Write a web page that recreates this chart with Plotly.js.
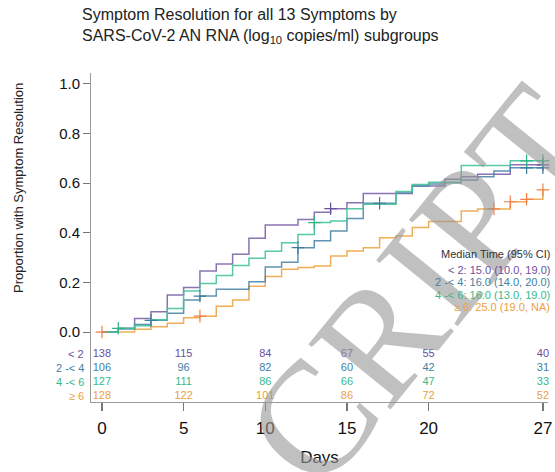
<!DOCTYPE html>
<html>
<head>
<meta charset="utf-8">
<script src="https://cdn.plot.ly/plotly-3.0.1.min.js"></script>
<style>html,body{margin:0;padding:0;background:#fff;}#chart{width:555px;height:472px;}</style>
</head>
<body>
<div id="chart"></div>
<script>
// ---- data ----
const groupNames = ["< 2", "2 -< 4", "4 -< 6", "\u2265 6"];
const medianLabels = ["< 2: 15.0 (10.0, 19.0)", "2 -< 4: 16.0 (14.0, 20.0)", "4 -< 6: 16.0 (13.0, 19.0)", "\u2265 6: 25.0 (19.0, NA)"];

const g1Days = [0, 1, 2, 3, 4, 5, 6, 7, 8, 9, 10, 12, 13, 14, 15, 16, 19, 21, 22, 23, 25, 27];
const g1Prop = [0, 0.015, 0.055, 0.082, 0.149, 0.179, 0.246, 0.274, 0.313, 0.378, 0.431, 0.454, 0.483, 0.497, 0.521, 0.558, 0.589, 0.616, 0.626, 0.636, 0.674, 0.674];
const g1Cens = [14, 27];

const g2Days = [0, 1, 2, 3, 4, 5, 6, 7, 9, 10, 11, 12, 13, 14, 15, 16, 18, 19, 20, 21, 22, 23, 24, 25, 27];
const g2Prop = [0, 0.012, 0.03, 0.047, 0.076, 0.129, 0.145, 0.172, 0.203, 0.262, 0.281, 0.340, 0.368, 0.407, 0.458, 0.519, 0.560, 0.589, 0.597, 0.602, 0.613, 0.626, 0.649, 0.662, 0.662];
const g2Cens = [3, 6, 12, 17, 26, 27];

const g3Days = [0, 1, 2, 3, 4, 5, 6, 7, 8, 9, 10, 11, 12, 13, 14, 15, 16, 18, 19, 20, 22, 25, 27];
const g3Prop = [0, 0.015, 0.025, 0.05, 0.095, 0.165, 0.196, 0.228, 0.268, 0.297, 0.326, 0.36, 0.393, 0.441, 0.448, 0.497, 0.515, 0.566, 0.595, 0.604, 0.671, 0.69, 0.69];
const g3Cens = [1, 13, 26, 27];

const g4Days = [0, 2, 3, 4, 5, 6, 7, 8, 9, 10, 11, 12, 13, 14, 15, 16, 17, 18, 19, 20, 22, 23, 25, 26, 27];
const g4Prop = [0, 0.011, 0.021, 0.035, 0.058, 0.064, 0.104, 0.129, 0.185, 0.224, 0.253, 0.260, 0.266, 0.306, 0.327, 0.340, 0.380, 0.387, 0.421, 0.445, 0.488, 0.496, 0.525, 0.535, 0.573];
const g4Cens = [0, 6, 24, 25, 26, 27];

const riskDays = [0, 5, 10, 15, 20, 27];
const risk1 = [138, 115, 84, 67, 55, 40];
const risk2 = [106, 96, 82, 60, 42, 31];
const risk3 = [127, 111, 86, 66, 47, 33];
const risk4 = [128, 122, 101, 86, 72, 52];

const xTicks = [0, 5, 10, 15, 20, 27];
const yTicks = [0, 0.2, 0.4, 0.6, 0.8, 1.0];

// ---- styling ----
const lineColors = ["#7d64aa", "#5088aa", "#45c49b", "#f0a646"];
const markColors = ["#6a4f9c", "#3e7a9c", "#2fb487", "#f27d45"];
const textColors = ["#6b4f9e", "#3f80a3", "#38b98b", "#eca040"];
const FONT = "Liberation Sans, Arial, sans-serif";

// pixel helpers for paper placement (plot box: x 91..548, y 73..402)
const L = 91, R = 548, T = 73, B = 402;
const pxX = p => (p - L) / (R - L);
const pxY = p => (B - p) / (B - T);

function stepAt(days, vals, t) {
  let v = vals[0];
  for (let i = 0; i < days.length; i++) { if (days[i] <= t) v = vals[i]; }
  return v;
}

const groups = [
  [g1Days, g1Prop, g1Cens, risk1],
  [g2Days, g2Prop, g2Cens, risk2],
  [g3Days, g3Prop, g3Cens, risk3],
  [g4Days, g4Prop, g4Cens, risk4]
];
// risk table row levels (in y units below 0)
const riskRows = [-0.089, -0.145, -0.202, -0.258];

const traces = [];
[3, 0, 1, 2].forEach(i => {
  const [d, p] = groups[i];
  traces.push({
    x: d, y: p, type: "scatter", mode: "lines",
    line: {shape: "hv", color: lineColors[i], width: 1.5},
    opacity: 0.9, hoverinfo: "skip", showlegend: false
  });
});
groups.forEach((g, i) => {
  const [d, p, c] = g;
  traces.push({
    x: c, y: c.map(t => stepAt(d, p, t)), type: "scatter", mode: "markers",
    marker: {symbol: "cross-thin", size: 9, line: {width: 1.2, color: markColors[i]}, color: markColors[i]},
    hoverinfo: "skip", showlegend: false, cliponaxis: false
  });
});
groups.forEach((g, i) => {
  traces.push({
    x: riskDays, y: riskDays.map(() => riskRows[i]), text: g[3].map(String),
    type: "scatter", mode: "text", textposition: "middle center",
    textfont: {family: FONT, size: 11, color: textColors[i]},
    hoverinfo: "skip", showlegend: false, cliponaxis: false
  });
});

const annotations = [];
// watermark (drawn first, beneath other annotations)
annotations.push({
  xref: "paper", yref: "paper", x: pxX(420), y: pxY(287), xanchor: "center", yanchor: "middle",
  text: "CRIPT", textangle: -51, showarrow: false,
  font: {family: "Liberation Serif, Times New Roman, serif", size: 160, color: "rgba(150,150,150,0.6)"}
});
annotations.push({
  xref: "paper", yref: "paper", x: pxX(80), y: pxY(4), xanchor: "left", yanchor: "top", align: "left",
  text: "Symptom Resolution for all 13 Symptoms by<br>SARS-CoV-2 AN RNA (log<sub>10</sub> copies/ml) subgroups",
  showarrow: false, font: {family: FONT, size: 16, color: "#222"}
});
annotations.push({
  xref: "paper", yref: "paper", x: pxX(18), y: pxY(188), xanchor: "center", yanchor: "middle",
  text: "Proportion with Symptom Resolution", textangle: -90, showarrow: false,
  font: {family: FONT, size: 13, color: "#222"}
});
annotations.push({
  xref: "paper", yref: "paper", x: pxX(552), y: pxY(254), xanchor: "right", yanchor: "middle",
  text: "Median Time (95% CI)", showarrow: false, font: {family: FONT, size: 11, color: "#333"}
});
medianLabels.forEach((t, i) => {
  annotations.push({
    xref: "paper", yref: "paper", x: pxX(552), y: pxY(270 + i * 12.4), xanchor: "right", yanchor: "middle",
    text: t, showarrow: false, font: {family: FONT, size: 11, color: textColors[i]}
  });
});
groupNames.forEach((t, i) => {
  annotations.push({
    xref: "paper", yref: "y", x: pxX(86), y: riskRows[i], xanchor: "right", yanchor: "middle",
    text: t, showarrow: false, font: {family: FONT, size: 11, color: textColors[i]}
  });
});

const layout = {
  width: 555, height: 472,
  margin: {l: L, r: 555 - R, t: T, b: 472 - B},
  paper_bgcolor: "#fff", plot_bgcolor: "#fff",
  showlegend: false,
  xaxis: {
    range: [-0.67, 27.31], tickvals: xTicks, ticktext: xTicks.map(String),
    showgrid: false, zeroline: false, showline: true, linecolor: "#9a9a9a", linewidth: 1,
    ticks: "outside", ticklen: 8, tickcolor: "#777", tickwidth: 1.5,
    tickfont: {family: FONT, size: 17, color: "#111"}, ticklabelstandoff: 3,
    title: {text: "Days", font: {family: FONT, size: 17, color: "#111"}, standoff: 13}
  },
  yaxis: {
    range: [-0.282, 1.044], tickvals: yTicks, ticktext: yTicks.map(v => v.toFixed(1)),
    showgrid: false, zeroline: false, showline: true, linecolor: "#9a9a9a", linewidth: 1,
    ticks: "outside", ticklen: 7, tickcolor: "#777", tickwidth: 1,
    tickfont: {family: FONT, size: 15, color: "#111"}
  },
  annotations: annotations
};

Plotly.newPlot("chart", traces, layout, {displayModeBar: false, staticPlot: true});
</script>
</body>
</html>
